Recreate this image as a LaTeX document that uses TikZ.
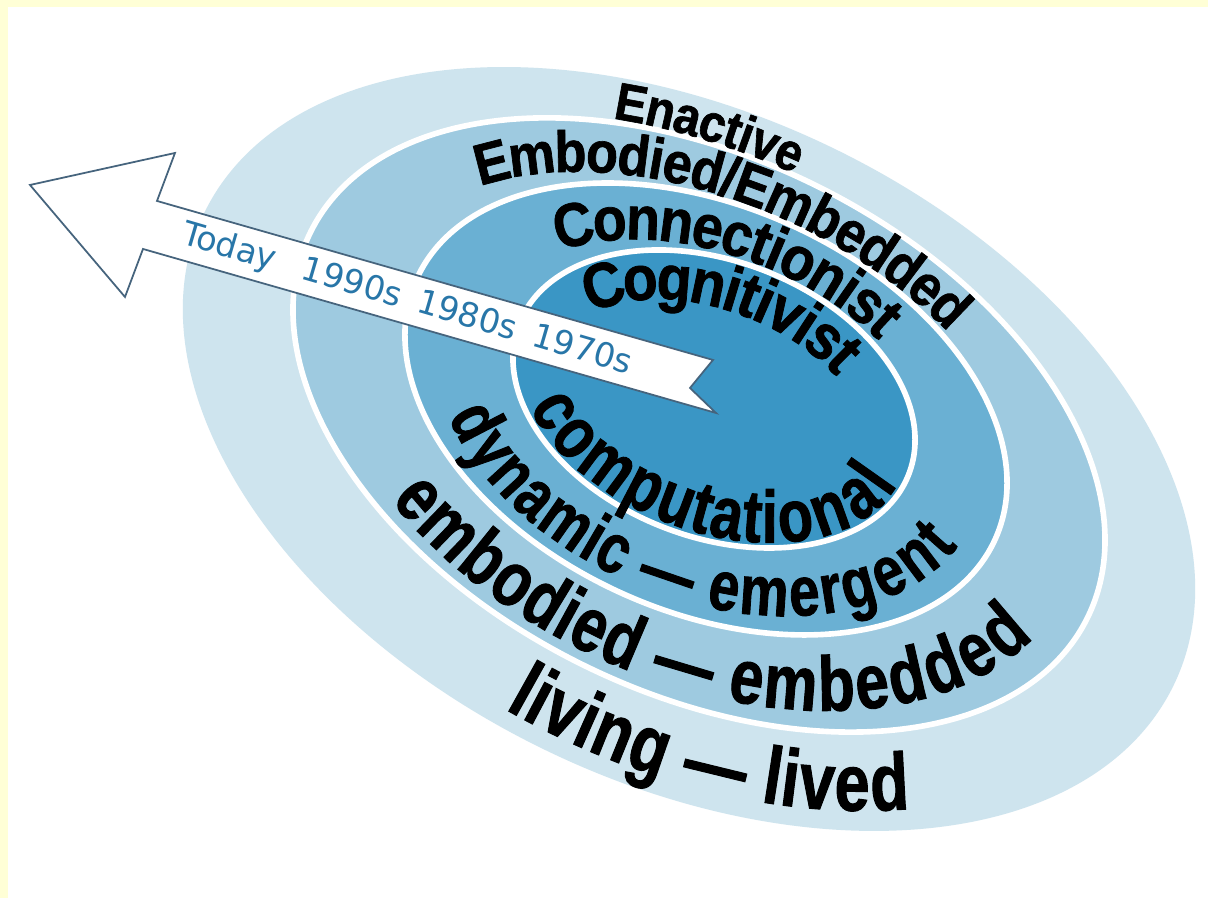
\documentclass[tikz,border=0pt]{standalone}
\usepackage{fontspec}
\usetikzlibrary{decorations.text}
\newfontfamily\ringfont{Liberation Sans}[FakeStretch=0.9, BoldFeatures={FakeBold=1.2}]
\newfontfamily\narrowfont{Liberation Sans}[FakeStretch=0.78, BoldFeatures={FakeBold=1.2}]
\newfontfamily\datefont{DejaVu Sans}
\definecolor{cream}{RGB}{255,255,214}
\definecolor{ringA}{RGB}{206,228,238}
\definecolor{ringB}{RGB}{158,202,224}
\definecolor{ringC}{RGB}{106,176,211}
\definecolor{ringD}{RGB}{58,150,197}
\definecolor{arrowline}{RGB}{70,100,125}
\definecolor{datecol}{RGB}{40,118,168}
\tikzset{
  band/.style={fill=#1, draw=white, line width=1.6pt},
  ringlabel/.style={decorate, decoration={text along path, raise=#1}},
  timearrow/.style={fill=white, draw=arrowline, line width=0.5pt, line join=miter},
  datelabel/.style={text=datecol, font=\datefont\fontsize{9.5}{9.5}\selectfont, inner sep=0pt},
}
\begin{document}
\begin{tikzpicture}[x=0.01cm, y=0.01cm]
  \useasboundingbox (0,0) rectangle (1208,898);
  \fill[cream] (0,0) rectangle (1208,898);
  \fill[white] (8,0) rectangle (1208,891);
  % rings, outside in
  \fill[ringA, rotate around={-26.05:(689,449)}] (689,449) ellipse[x radius=539.2, y radius=333.6];
  \filldraw[band=ringB, rotate around={-26.5:(699,473)}] (699,473) ellipse[x radius=433.7, y radius=266.5];
  \filldraw[band=ringC, rotate around={-24.2:(706,489)}] (706,489) ellipse[x radius=317.2, y radius=202.6];
  \filldraw[band=ringD, rotate around={-21.1:(714,499)}] (714,499) ellipse[x radius=208.8, y radius=137.9];
  % time arrow
  \draw[timearrow] (30,713) -- (175,745) -- (157,697) -- (713,538) -- (690,510)
        -- (716,485) -- (143,649) -- (125,601) -- cycle;
  \node[datelabel, rotate=-16.3] (dates) at (407,598)
    {Today\hspace{5pt} 1990s\hspace{2pt} 1980s\hspace{2pt} 1970s};
  % ring labels
  \begin{scope}[shift={(694,461)}, rotate=-26.3]
    \path[ringlabel=-5.4pt, decoration={text={|\ringfont\bfseries\fontsize{15}{15}\selectfont|Enactive}}]
      (116.8:486.5 and 300) arc[start angle=116.8, end angle=-40, x radius=486.5, y radius=300];
    \path[ringlabel=-8.3pt, decoration={text={|\narrowfont\bfseries\fontsize{23}{23}\selectfont|living — lived}}]
      (264.4:486.5 and 300) arc[start angle=264.4, end angle=420, x radius=486.5, y radius=300];
  \end{scope}
  \begin{scope}[shift={(702.5,481)}, rotate=-25.3]
    \path[ringlabel=-5.9pt, decoration={text={|\ringfont\bfseries\fontsize{16.5}{16.5}\selectfont|Embodied/Embedded}}]
      (146.5:375.5 and 234.5) arc[start angle=146.5, end angle=-30, x radius=375.5, y radius=234.5];
    \path[ringlabel=-7.9pt, decoration={text={|\narrowfont\bfseries\fontsize{22}{22}\selectfont|embodied — embedded}}]
      (231.3:375.5 and 234.5) arc[start angle=231.3, end angle=420, x radius=375.5, y radius=234.5];
  \end{scope}
  \begin{scope}[shift={(710,494)}, rotate=-22.6]
    \path[ringlabel=-6.3pt, decoration={text={|\ringfont\bfseries\fontsize{17.5}{17.5}\selectfont|Connectionist}}]
      (143.5:263 and 170) arc[start angle=143.5, end angle=-30, x radius=263, y radius=170];
    \path[ringlabel=-7.2pt, decoration={text={|\narrowfont\bfseries\fontsize{20}{20}\selectfont|dynamic — emergent}}]
      (213.1:263 and 170) arc[start angle=213.1, end angle=410, x radius=263, y radius=170];
  \end{scope}
  \begin{scope}[shift={(714,499)}, rotate=-21.1]
    \path[ringlabel=-6.5pt, decoration={text={|\ringfont\bfseries\fontsize{18}{18}\selectfont|Cognitivist}}]
      (151.6:182 and 111) arc[start angle=151.6, end angle=-20, x radius=182, y radius=111];
    \path[ringlabel=-6pt, decoration={text={|\narrowfont\bfseries\fontsize{21}{21}\selectfont|computational}}]
      (211:182 and 111) arc[start angle=211, end angle=400, x radius=182, y radius=111];
  \end{scope}
\end{tikzpicture}
\end{document}
